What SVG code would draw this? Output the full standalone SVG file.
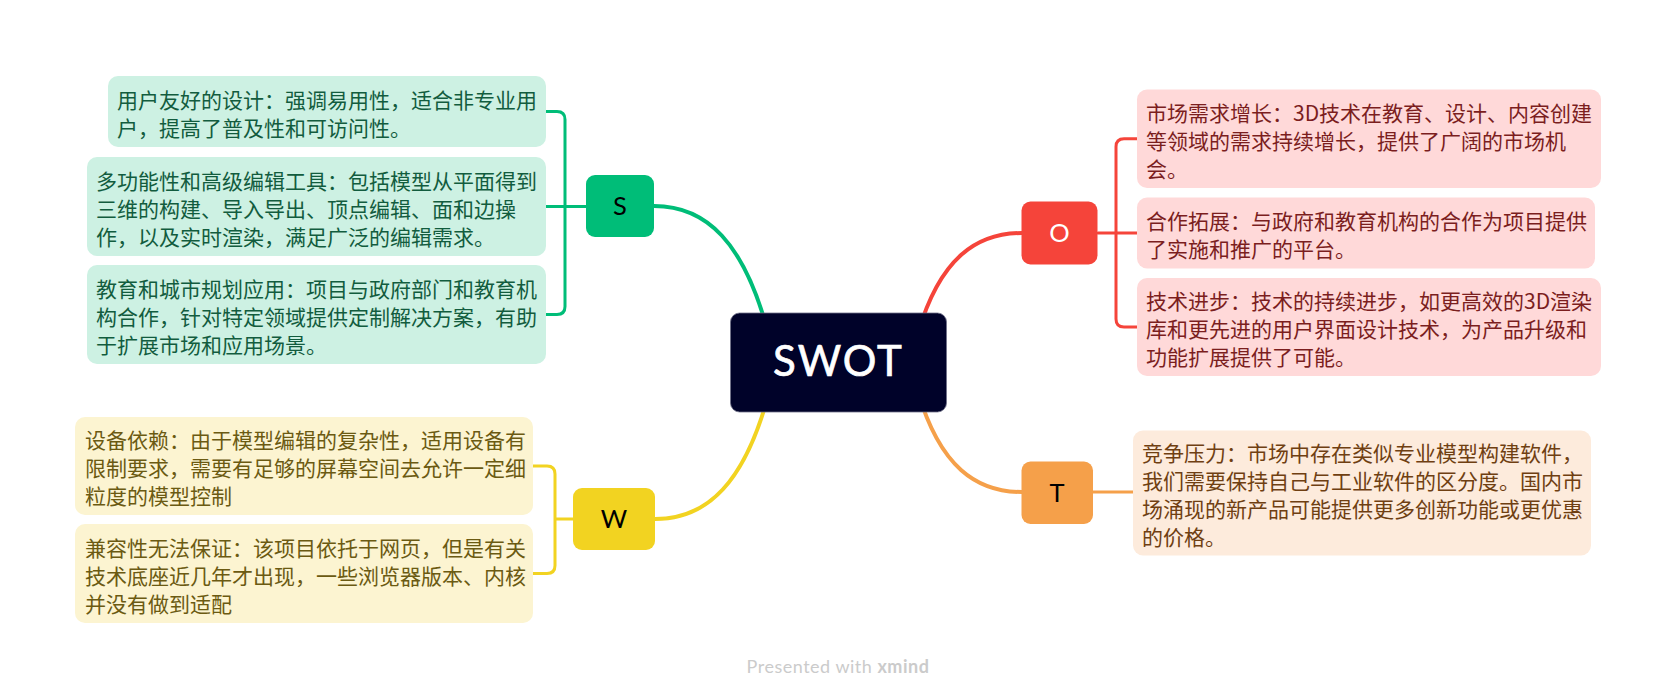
<svg xmlns="http://www.w3.org/2000/svg" width="1677" height="699" viewBox="0 0 1677 699">
  <style>
    .main { fill: none; stroke-width: 4; stroke-linecap: round; }
    .sub { fill: none; stroke-width: 3; stroke-linecap: round; stroke-linejoin: round; }
    .green { stroke: #00bd78; }
    .red { stroke: #f5443a; }
    .yellow { stroke: #f2d321; }
    .orange { stroke: #f5a04a; }
    .txt { font-family: "Noto Sans CJK SC", "Noto Sans", sans-serif; font-size: 21px; }
    .ltr { font-family: Lato, "Open Sans", sans-serif; font-size: 25.5px; text-anchor: middle; }
    .s-box { fill: #cdf1e3; } .s-txt { fill: #125c3e; }
    .w-box { fill: #fcf4d1; } .w-txt { fill: #6b5a12; }
    .o-box { fill: #ffd9d9; } .o-txt { fill: #7b1e1e; }
    .t-box { fill: #fdebdc; } .t-txt { fill: #6f3f12; }
  </style>

  <rect width="1677" height="699" fill="#ffffff"/>

  <!-- branches and brackets -->
  <g id="connectors">
    <path class="main green" d="M654,206 C705,206 745,240 770,340"/>
    <path class="main red" d="M1022,233 C976,233 940,258.5 918,333"/>
    <path class="main yellow" d="M655,519 C706,519 746,485 771,385"/>
    <path class="main orange" d="M1022,492 C976,492 940,466.5 918,392"/>

    <path class="sub green" d="M546,111.5 H557 Q565,111.5 565,119.5 V306.5 Q565,314.5 557,314.5 H546 M546,206.5 H586"/>
    <path class="sub yellow" d="M533,466 H547 Q555,466 555,474 V565.5 Q555,573.5 547,573.5 H533 M555,519 H573"/>
    <path class="sub red" d="M1137,138.75 H1124 Q1116,138.75 1116,146.75 V319 Q1116,327 1124,327 H1137 M1098,233 H1137"/>
    <path class="sub orange" d="M1093,492 H1133"/>
  </g>

  <!-- central topic -->
  <g id="swot">
    <rect x="730.5" y="313" width="216" height="99" rx="9" fill="#000229" stroke="#6e7088" stroke-width="0.8"/>
    <text x="838.5" y="376" font-family="Lato, 'Open Sans', sans-serif" font-size="42" fill="#ffffff" stroke="#ffffff" stroke-width="0.7" text-anchor="middle" letter-spacing="2">SWOT</text>
  </g>

  <!-- Strengths -->
  <g id="node-s">
    <rect x="586" y="175" width="68" height="62" rx="9" fill="#00bd78"/>
    <text class="ltr" x="620" y="215" fill="#000000">S</text>
  </g>
  <g id="s-1">
    <rect class="s-box" x="108" y="76" width="438" height="71" rx="10"/>
    <text class="txt s-txt"><tspan x="117" y="107.5">用户友好的设计：强调易用性，适合非专业用</tspan><tspan x="117" y="135.5">户，提高了普及性和可访问性。</tspan></text>
  </g>
  <g id="s-2">
    <rect class="s-box" x="87" y="157" width="459" height="99" rx="10"/>
    <text class="txt s-txt"><tspan x="96" y="188.5">多功能性和高级编辑工具：包括模型从平面得到</tspan><tspan x="96" y="216.5">三维的构建、导入导出、顶点编辑、面和边操</tspan><tspan x="96" y="244.5">作，以及实时渲染，满足广泛的编辑需求。</tspan></text>
  </g>
  <g id="s-3">
    <rect class="s-box" x="87" y="265" width="459" height="99" rx="10"/>
    <text class="txt s-txt"><tspan x="96" y="296.5">教育和城市规划应用：项目与政府部门和教育机</tspan><tspan x="96" y="324.5">构合作，针对特定领域提供定制解决方案，有助</tspan><tspan x="96" y="352.5">于扩展市场和应用场景。</tspan></text>
  </g>

  <!-- Weaknesses -->
  <g id="node-w">
    <rect x="573" y="488" width="82" height="62" rx="9" fill="#f2d321"/>
    <text class="ltr" x="614" y="528" fill="#000000">W</text>
  </g>
  <g id="w-1">
    <rect class="w-box" x="75" y="417" width="458" height="98" rx="10"/>
    <text class="txt w-txt"><tspan x="85" y="448">设备依赖：由于模型编辑的复杂性，适用设备有</tspan><tspan x="85" y="476">限制要求，需要有足够的屏幕空间去允许一定细</tspan><tspan x="85" y="504">粒度的模型控制</tspan></text>
  </g>
  <g id="w-2">
    <rect class="w-box" x="75" y="524" width="458" height="99" rx="10"/>
    <text class="txt w-txt"><tspan x="85" y="555.5">兼容性无法保证：该项目依托于网页，但是有关</tspan><tspan x="85" y="583.5">技术底座近几年才出现，一些浏览器版本、内核</tspan><tspan x="85" y="611.5">并没有做到适配</tspan></text>
  </g>

  <!-- Opportunities -->
  <g id="node-o">
    <rect x="1021.5" y="201.5" width="76" height="63" rx="9" fill="#f5443a"/>
    <text class="ltr" x="1059.5" y="242" fill="#ffffff">O</text>
  </g>
  <g id="o-1">
    <rect class="o-box" x="1137" y="89.5" width="464" height="98.5" rx="10"/>
    <text class="txt o-txt"><tspan x="1146" y="120.75">市场需求增长：3D技术在教育、设计、内容创建</tspan><tspan x="1146" y="148.75">等领域的需求持续增长，提供了广阔的市场机</tspan><tspan x="1146" y="176.75">会。</tspan></text>
  </g>
  <g id="o-2">
    <rect class="o-box" x="1137" y="197.5" width="458" height="71" rx="10"/>
    <text class="txt o-txt"><tspan x="1146" y="229">合作拓展：与政府和教育机构的合作为项目提供</tspan><tspan x="1146" y="257">了实施和推广的平台。</tspan></text>
  </g>
  <g id="o-3">
    <rect class="o-box" x="1137" y="278" width="464" height="98" rx="10"/>
    <text class="txt o-txt"><tspan x="1146" y="309">技术进步：技术的持续进步，如更高效的3D渲染</tspan><tspan x="1146" y="337">库和更先进的用户界面设计技术，为产品升级和</tspan><tspan x="1146" y="365">功能扩展提供了可能。</tspan></text>
  </g>

  <!-- Threats -->
  <g id="node-t">
    <rect x="1021.5" y="461.5" width="71.5" height="62.5" rx="9" fill="#f5a04a"/>
    <text class="ltr" x="1057" y="502" fill="#000000">T</text>
  </g>
  <g id="t-1">
    <rect class="t-box" x="1133" y="430.5" width="458" height="125" rx="10"/>
    <text class="txt t-txt"><tspan x="1142" y="461">竞争压力：市场中存在类似专业模型构建软件，</tspan><tspan x="1142" y="489">我们需要保持自己与工业软件的区分度。国内市</tspan><tspan x="1142" y="517">场涌现的新产品可能提供更多创新功能或更优惠</tspan><tspan x="1142" y="545">的价格。</tspan></text>
  </g>

  <!-- footer -->
  <text x="838" y="673" font-family="Lato, 'Open Sans', sans-serif" font-size="18" letter-spacing="0.5" fill="#cbcbcb" text-anchor="middle">Presented with <tspan font-weight="bold">xmind</tspan></text>
</svg>
